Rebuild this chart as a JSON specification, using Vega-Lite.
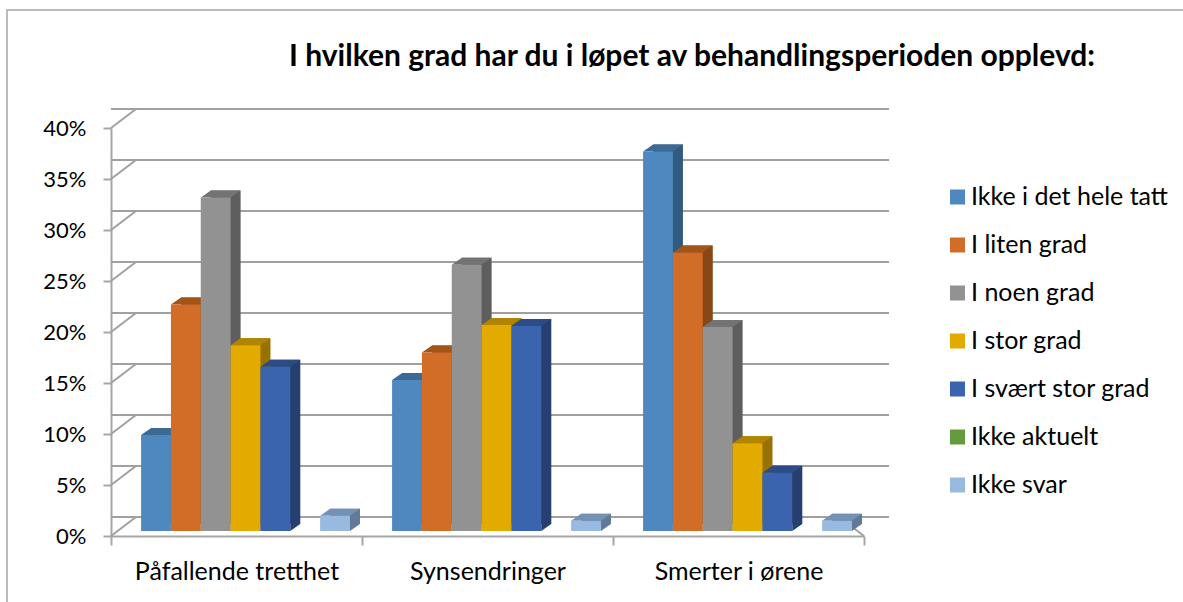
{"$schema":"https://vega.github.io/schema/vega-lite/v6.json","width":753,"height":408,"autosize":{"type":"none"},"padding":{"left":111,"top":128,"right":319,"bottom":66},"background":"white","config":{"font":"Lato","view":{"stroke":null}},"title":{"text":"I hvilken grad har du i løpet av behandlingsperioden opplevd:","font":"Lato","fontSize":30,"fontWeight":"bold","color":"black","anchor":"start","dx":285,"offset":-65},"datasets":{"bars":[{"category":"Påfallende tretthet","series":"Ikke i det hele tatt","value":0.094},{"category":"Påfallende tretthet","series":"I liten grad","value":0.222},{"category":"Påfallende tretthet","series":"I noen grad","value":0.327},{"category":"Påfallende tretthet","series":"I stor grad","value":0.182},{"category":"Påfallende tretthet","series":"I svært stor grad","value":0.161},{"category":"Påfallende tretthet","series":"Ikke aktuelt","value":0},{"category":"Påfallende tretthet","series":"Ikke svar","value":0.015},{"category":"Synsendringer","series":"Ikke i det hele tatt","value":0.148},{"category":"Synsendringer","series":"I liten grad","value":0.175},{"category":"Synsendringer","series":"I noen grad","value":0.261},{"category":"Synsendringer","series":"I stor grad","value":0.202},{"category":"Synsendringer","series":"I svært stor grad","value":0.201},{"category":"Synsendringer","series":"Ikke aktuelt","value":0},{"category":"Synsendringer","series":"Ikke svar","value":0.01},{"category":"Smerter i ørene","series":"Ikke i det hele tatt","value":0.372},{"category":"Smerter i ørene","series":"I liten grad","value":0.273},{"category":"Smerter i ørene","series":"I noen grad","value":0.2},{"category":"Smerter i ørene","series":"I stor grad","value":0.086},{"category":"Smerter i ørene","series":"I svært stor grad","value":0.057},{"category":"Smerter i ørene","series":"Ikke aktuelt","value":0},{"category":"Smerter i ørene","series":"Ikke svar","value":0.01}],"grid":[{"v":0},{"v":0.05},{"v":0.1},{"v":0.15},{"v":0.2},{"v":0.25},{"v":0.3},{"v":0.35},{"v":0.4}]},"layer":[{"data":{"name":"grid"},"mark":{"type":"point","shape":"M-229.5,66L-229.5,-526L947,-526","filled":false,"stroke":"#a6a6a6","strokeWidth":1.5,"size":4,"opacity":1},"transform":[{"filter":"datum.v==0"}],"encoding":{"x":{"datum":"Påfallende tretthet","type":"nominal","scale":{"domain":["Påfallende tretthet","Synsendringer","Smerter i ørene"],"paddingInner":0,"paddingOuter":0},"axis":{"title":null,"labelFontSize":25,"labelColor":"black","labelAngle":0,"labelPadding":14,"labelLimit":300,"tickBand":"extent","tickSize":9,"tickWidth":2,"tickColor":"#a6a6a6","domainColor":"#a6a6a6","domainWidth":2,"grid":false}},"y":{"field":"v","type":"quantitative","scale":{"domain":[0,0.4]},"axis":{"title":null,"format":".0%","values":[0,0.05,0.1,0.15,0.2,0.25,0.3,0.35,0.4],"labelFontSize":22,"labelColor":"black","labelPadding":17,"tickSize":8,"tickWidth":2,"tickColor":"#a6a6a6","domainColor":"#a6a6a6","domainWidth":2,"grid":false}}}},{"data":{"name":"grid"},"mark":{"type":"rule","stroke":"#a0a0a0","strokeWidth":2,"xOffset":25,"yOffset":-19},"encoding":{"y":{"field":"v","type":"quantitative"}}},{"data":{"name":"grid"},"mark":{"type":"point","shape":"M-125.5,0L-100.5,-19","filled":false,"stroke":"#a0a0a0","strokeWidth":2,"size":4,"opacity":1},"encoding":{"x":{"datum":"Påfallende tretthet","type":"nominal"},"y":{"field":"v","type":"quantitative"}}},{"data":{"name":"grid"},"transform":[{"filter":"datum.v==0"}],"mark":{"type":"point","shape":"M125.5,0L100.5,-19","filled":false,"stroke":"#a0a0a0","strokeWidth":2,"size":4,"opacity":1},"encoding":{"x":{"datum":"Smerter i ørene","type":"nominal"},"y":{"field":"v","type":"quantitative"}}},{"data":{"name":"bars"},"transform":[{"filter":"datum.value>0"}],"mark":{"type":"bar","yOffset":-12},"encoding":{"x":{"field":"category","type":"nominal","sort":["Påfallende tretthet","Synsendringer","Smerter i ørene"]},"xOffset":{"field":"series","type":"nominal","scale":{"type":"band","domain":["Ikke i det hele tatt","I liten grad","I noen grad","I stor grad","I svært stor grad","Ikke aktuelt","Ikke svar"],"paddingInner":0,"paddingOuter":0.706,"align":0.952}},"y":{"field":"value","type":"quantitative"},"fill":{"field":"series","type":"nominal","legend":null,"scale":{"domain":["Ikke i det hele tatt","I liten grad","I noen grad","I stor grad","I svært stor grad","Ikke aktuelt","Ikke svar"],"range":["#305A7E","#874717","#5E5E5E","#987200","#263F70","#456B2A","#62799A"]}}}},{"data":{"name":"bars"},"transform":[{"filter":"datum.value>0"}],"mark":{"type":"point","shape":"M14.9,0L24.9,-7L14.9,-7Z","filled":true,"size":4,"opacity":1,"yOffset":-5},"encoding":{"x":{"field":"category","type":"nominal","sort":["Påfallende tretthet","Synsendringer","Smerter i ørene"]},"xOffset":{"field":"series","type":"nominal","scale":{"type":"band","domain":["Ikke i det hele tatt","I liten grad","I noen grad","I stor grad","I svært stor grad","Ikke aktuelt","Ikke svar"],"paddingInner":0,"paddingOuter":0.706,"align":0.714}},"y":{"datum":0,"type":"quantitative"},"fill":{"field":"series","type":"nominal","legend":null,"scale":{"domain":["Ikke i det hele tatt","I liten grad","I noen grad","I stor grad","I svært stor grad","Ikke aktuelt","Ikke svar"],"range":["#305A7E","#874717","#5E5E5E","#987200","#263F70","#456B2A","#62799A"]}}}},{"data":{"name":"bars"},"transform":[{"filter":"datum.value>0"}],"mark":{"type":"point","shape":"M-14.9,0L14.9,0L24.9,-7L-4.9,-7Z","filled":true,"size":4,"opacity":1,"yOffset":-5},"encoding":{"x":{"field":"category","type":"nominal","sort":["Påfallende tretthet","Synsendringer","Smerter i ørene"]},"xOffset":{"field":"series","type":"nominal","scale":{"type":"band","domain":["Ikke i det hele tatt","I liten grad","I noen grad","I stor grad","I svært stor grad","Ikke aktuelt","Ikke svar"],"paddingInner":0,"paddingOuter":0.706,"align":0.714}},"y":{"field":"value","type":"quantitative"},"fill":{"field":"series","type":"nominal","legend":null,"scale":{"domain":["Ikke i det hele tatt","I liten grad","I noen grad","I stor grad","I svært stor grad","Ikke aktuelt","Ikke svar"],"range":["#3B6A94","#A35518","#737373","#B18500","#2D4C86","#4F7A30","#7492B6"]}}}},{"data":{"name":"bars"},"transform":[{"filter":"datum.value>0"}],"mark":{"type":"bar","yOffset":-5},"encoding":{"x":{"field":"category","type":"nominal","sort":["Påfallende tretthet","Synsendringer","Smerter i ørene"]},"xOffset":{"field":"series","type":"nominal","scale":{"type":"band","domain":["Ikke i det hele tatt","I liten grad","I noen grad","I stor grad","I svært stor grad","Ikke aktuelt","Ikke svar"],"paddingInner":0,"paddingOuter":0.706,"align":0.714}},"y":{"field":"value","type":"quantitative"},"fill":{"field":"series","type":"nominal","scale":{"domain":["Ikke i det hele tatt","I liten grad","I noen grad","I stor grad","I svært stor grad","Ikke aktuelt","Ikke svar"],"range":["#4F88BE","#D26D28","#929292","#E3AB00","#3A64AE","#659A3E","#98B9E0"]},"legend":{"title":null,"orient":"none","legendX":834,"legendY":56.5,"padding":0,"symbolType":"square","symbolSize":225,"symbolStrokeWidth":0,"labelFontSize":25,"labelColor":"black","labelLimit":300,"rowPadding":22,"labelOffset":1}}}}],"resolve":{"scale":{"fill":"independent","xOffset":"independent"}}}
